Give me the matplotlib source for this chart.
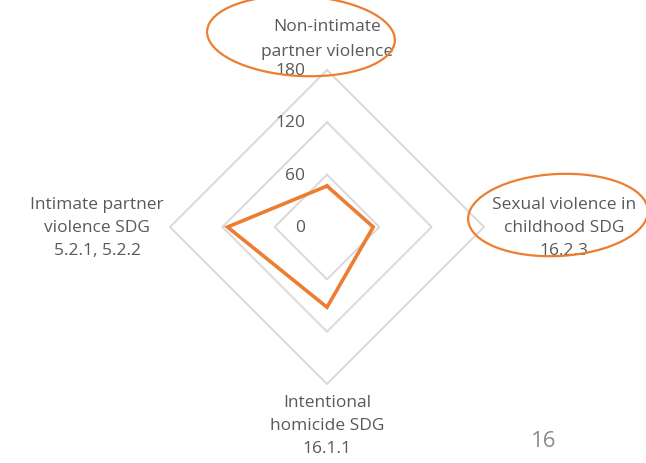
import numpy as np
import matplotlib
matplotlib.use("Agg")
import matplotlib.pyplot as plt
from matplotlib.patches import Ellipse

categories = ["Non-intimate\npartner violence",
              "Sexual violence in\nchildhood SDG\n16.2.3",
              "Intentional\nhomicide SDG\n16.1.1",
              "Intimate partner\nviolence SDG\n5.2.1, 5.2.2"]
values = [47, 53, 92, 114]
ring_ticks = [0, 60, 120, 180]
tick_labels = ["0", "60", "120", "180"]
page_number = "16"

W, H = 646, 464
fig = plt.figure(figsize=(W / 100, H / 100), dpi=100)
plt.rcParams['font.family'] = ['Open Sans', 'DejaVu Sans']

cx, cy, R = 327, 228, 157
ax = fig.add_axes([(cx - R) / W, (H - cy - R) / H, 2 * R / W, 2 * R / H], projection='polar')
ax.set_theta_zero_location('N')
ax.set_theta_direction(-1)
ax.set_ylim(0, 180)
ax.grid(False)
ax.spines['polar'].set_visible(False)
ax.set_xticks([])
ax.set_yticks([])
ax.patch.set_alpha(0)

n = len(categories)
angles = np.arange(n) * 2 * np.pi / n
closed = np.append(angles, angles[0])

grid_color = "#D9D9D9"
for v in ring_ticks[1:]:
    ax.plot(closed, [v] * (n + 1), color=grid_color, lw=1.4, zorder=1, clip_on=False)

ax.plot(closed, values + values[:1], color="#ED7D31", lw=2.6, zorder=3,
        solid_joinstyle='miter', clip_on=False)

txt_color = "#595959"
fs = 12.5
ls = 1.58
ov = fig.add_axes([0, 0, 1, 1])
ov.set_xlim(0, W)
ov.set_ylim(H, 0)
ov.axis('off')
ov.patch.set_alpha(0)
for v, lab in zip(ring_ticks, tick_labels):
    ov.text(cx - 22, cy - v / 180 * R, lab, ha='right', va='center',
            fontsize=fs, color=txt_color)

# category labels
ax.text(angles[0], 216, categories[0], ha='center', va='center', fontsize=fs,
        color=txt_color, linespacing=1.7)
ax.text(angles[1], 189, categories[1], ha='left', va='center', fontsize=fs,
        color=txt_color, linespacing=ls, multialignment='center')
ax.text(angles[2], 191, categories[2], ha='center', va='top', fontsize=fs,
        color=txt_color, linespacing=ls)
ax.text(angles[3], 187, categories[3], ha='right', va='center', fontsize=fs,
        color=txt_color, linespacing=ls, multialignment='center')

# highlight ellipses
ov.add_patch(Ellipse((301, 37), 188, 80, angle=3, fill=False,
                     edgecolor="#ED7D31", lw=1.6, clip_on=False, zorder=5))
ov.add_patch(Ellipse((558, 216), 180, 82, angle=-3, fill=False,
                     edgecolor="#ED7D31", lw=1.6, clip_on=False, zorder=5))

ov.text(544, 442, page_number, ha='center', va='center', fontsize=16, color="#8C8C8C")

fig.savefig("out.png", dpi=100)
